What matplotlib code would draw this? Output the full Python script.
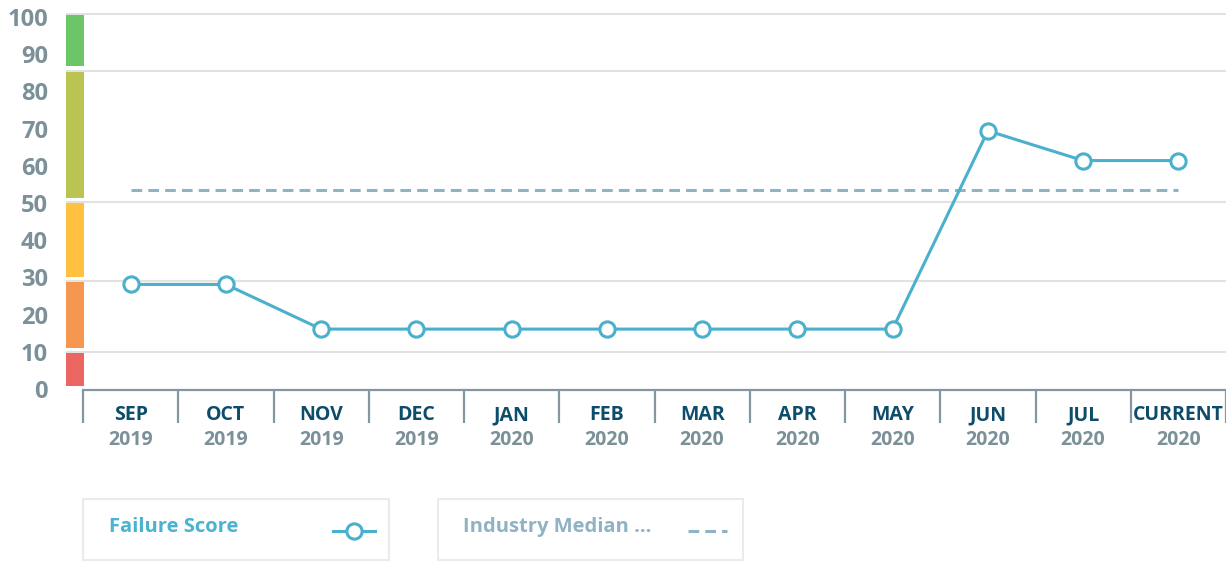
import matplotlib
matplotlib.use("Agg")
import matplotlib.pyplot as plt
import matplotlib.transforms as mtransforms
from matplotlib.patches import Rectangle
from matplotlib.lines import Line2D

plt.rcParams['font.family'] = ['Open Sans', 'DejaVu Sans']

# ---- data ----
months = ["SEP", "OCT", "NOV", "DEC", "JAN", "FEB", "MAR", "APR", "MAY", "JUN", "JUL", "CURRENT"]
years = ["2019", "2019", "2019", "2019", "2020", "2020", "2020", "2020", "2020", "2020", "2020", "2020"]
failure_score = [27.3, 27.3, 15.3, 15.3, 15.3, 15.3, 15.3, 15.3, 15.3, 68.6, 60.6, 60.6]
industry_median = 52.6
yticks = [0, 10, 20, 30, 40, 50, 60, 70, 80, 90, 100]
band_low = [0, 10.3, 29.4, 50.6, 86.1]
band_high = [9.0, 28.0, 49.3, 84.5, 99.7]
band_colors = ["#eb6660", "#f5974f", "#ffc13f", "#b9c452", "#6cc566"]
grid_levels = [9.2, 28.2, 49.5, 84.8, 100]

W, H = 1226, 563
fig = plt.figure(figsize=(W / 100, H / 100), dpi=100)
ax_left, ax_right, ax_top, ax_bot = 66, 1226, 13, 390
ax = fig.add_axes([ax_left / W, (H - ax_bot) / H, (ax_right - ax_left) / W, (ax_bot - ax_top) / H])

px_per_unit = (1226 - 83) / 12.0
xmin = -0.5 - (83 - 66) / px_per_unit
ax.set_xlim(xmin, 11.5)
ax.set_ylim(-1.075, 100.27)

line_col = "#4ab0cc"
axis_col = "#8497a0"
lab_col = "#7b9099"

# grid lines
for g in grid_levels:
    ax.plot([xmin, 11.5], [g, g], color="#e2e2e2", lw=1.5, zorder=1, solid_capstyle="butt")

# colour bands
bar_w = 18 / px_per_unit
for lo, hi, c in zip(band_low, band_high, band_colors):
    ax.bar(xmin, hi - lo, width=bar_w, bottom=lo, align="edge", color=c, zorder=2, linewidth=0)

# median line
x = list(range(len(months)))
ax.plot([x[0], x[-1]], [industry_median] * 2, color="#8fb3c4", lw=2.2,
        ls=(0, (3.5, 2.0)), zorder=3)

# failure score
ax.plot(x, failure_score, color=line_col, lw=2.2, marker="o", ms=11, mfc="white",
        mec=line_col, mew=2.2, zorder=4)

# spines
for s in ["top", "right", "left"]:
    ax.spines[s].set_visible(False)
ax.spines["bottom"].set_bounds(-0.5, 11.5)
ax.spines["bottom"].set_color(axis_col)
ax.spines["bottom"].set_linewidth(1.6)

ax.set_xticks([])
ax.set_yticks(yticks)
ax.set_yticklabels([str(v) for v in yticks])
ax.tick_params(axis="y", length=0, pad=13, labelsize=17, labelcolor=lab_col)
for lab in ax.get_yticklabels():
    lab.set_fontweight("bold")
    lab.set_transform(lab.get_transform() + mtransforms.ScaledTranslation(0, -3 / 100, fig.dpi_scale_trans))

# category separators
trans = mtransforms.blended_transform_factory(ax.transData, fig.transFigure)
seps = [i - 0.5 for i in range(len(months) + 1)]
ax.vlines(seps, (H - 423) / H, (H - 390) / H, transform=trans, color=axis_col, lw=1.6, clip_on=False)

for xi, m, yv in zip(x, months, years):
    ax.text(xi, (H - 415) / H, m, transform=trans, ha="center", va="center",
            fontsize=14, fontweight="bold", color="#0e4c6c")
    ax.text(xi, (H - 440) / H, yv, transform=trans, ha="center", va="center",
            fontsize=14, fontweight="bold", color=lab_col)

# legend boxes
def fig_rect(x0, y0, x1, y1):
    fig.patches.append(Rectangle((x0 / W, (H - y1) / H), (x1 - x0) / W, (y1 - y0) / H,
                                 transform=fig.transFigure, fill=False,
                                 edgecolor="#ebebeb", lw=1.5))

fig_rect(83, 499, 389, 560)
fig_rect(438, 499, 743, 560)
fig.text(109 / W, (H - 527) / H, "Failure Score", ha="left", va="center",
         fontsize=14.5, fontweight="bold", color="#4ab3d0")
fig.text(463 / W, (H - 527) / H, "Industry Median ...", ha="left", va="center",
         fontsize=14.5, fontweight="bold", color="#8fb3c4")
fig.lines.append(Line2D([333 / W, 375 / W], [(H - 531) / H] * 2, transform=fig.transFigure,
                        color=line_col, lw=2.2))
fig.lines.append(Line2D([354 / W], [(H - 531) / H], transform=fig.transFigure,
                        marker="o", ms=11, mfc="white", mec=line_col, mew=2.2, lw=0))
fig.lines.append(Line2D([688 / W, 727 / W], [(H - 531) / H] * 2, transform=fig.transFigure,
                        color="#8fb3c4", lw=2.2, ls=(0, (3.5, 2.0))))

fig.savefig("out.png", dpi=100)
